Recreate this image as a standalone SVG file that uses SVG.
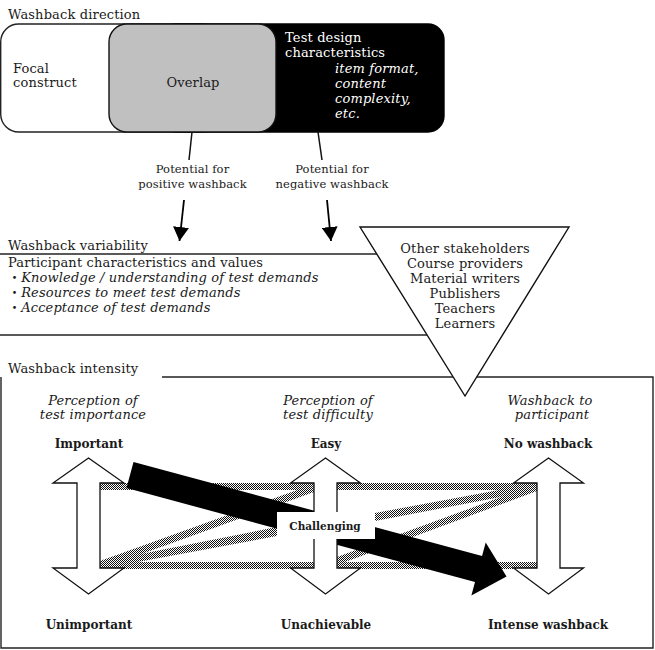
<svg xmlns="http://www.w3.org/2000/svg" width="655" height="650" viewBox="0 0 655 650">
<style>
text{font-family:"DejaVu Serif","Noto Sans CJK JP",serif;font-size:13px;letter-spacing:0.15px;fill:#1a1a1a}
.sm{font-size:11.5px;letter-spacing:0.1px}
.it{font-style:italic}
.b{font-weight:bold;font-size:12px;letter-spacing:0}
.w{fill:#fff}
.mid{text-anchor:middle}
.ln{stroke:#222;stroke-width:1.4;fill:none}
.dbl{fill:#fff;stroke:#111;stroke-width:1.3;stroke-linejoin:miter}
.band{fill:url(#hatch)}
</style>
<defs>
<pattern id="hatch" width="2" height="2" patternUnits="userSpaceOnUse"><rect width="2" height="2" fill="#fff"/><rect width="1" height="1" fill="#111"/><rect x="1" y="1" width="1" height="1" fill="#111"/></pattern>
<marker id="ah" viewBox="0 0 14 16" refX="14" refY="8" markerWidth="14" markerHeight="16" markerUnits="userSpaceOnUse" orient="auto"><path d="M0,0 L14,8 L0,16 z" fill="#000"/></marker>
</defs>
<rect width="655" height="650" fill="#fff"/>

<g id="direction">
<text x="8" y="19">Washback direction</text>
<rect id="focal" x="0.7" y="24" width="220" height="108" rx="18" fill="#fff" stroke="#222" stroke-width="1.4"/>
<rect id="testdesign" x="160" y="24" width="284" height="108" rx="16" fill="#000" stroke="#000" stroke-width="1.4"/>
<rect id="overlap" x="109" y="24" width="167" height="108" rx="18" fill="#c0c0c0" stroke="#111" stroke-width="1.4"/>
<text x="13" y="73">Focal</text>
<text x="13" y="87">construct</text>
<text x="193" y="87" class="mid">Overlap</text>
<text x="285" y="42" class="w">Test design</text>
<text x="285" y="57" class="w">characteristics</text>
<text x="335" y="73" class="w it">item format,</text>
<text x="335" y="88" class="w it">content</text>
<text x="335" y="103" class="w it">complexity,</text>
<text x="335" y="118" class="w it">etc.</text>
</g>

<g id="potential">
<text x="192.5" y="173" class="sm mid">Potential for</text>
<text x="192.5" y="188" class="sm mid">positive washback</text>
<text x="332" y="173" class="sm mid">Potential for</text>
<text x="332" y="188" class="sm mid">negative washback</text>
</g>

<g id="connectors">
<line x1="192" y1="132" x2="189" y2="160" stroke="#111" stroke-width="1.5"/>
<line x1="318" y1="132" x2="322" y2="160" stroke="#111" stroke-width="1.5"/>
<line x1="184" y1="200" x2="179.5" y2="241" stroke="#000" stroke-width="1.8" marker-end="url(#ah)"/>
<line x1="327" y1="200" x2="331" y2="241" stroke="#000" stroke-width="1.8" marker-end="url(#ah)"/>
</g>

<g id="variability">
<text x="8" y="250">Washback variability</text>
<line class="ln" x1="0" y1="254" x2="380" y2="254"/>
<text x="8" y="267">Participant characteristics and values</text>
<text x="8" y="282"><tspan>・</tspan><tspan class="it">Knowledge / understanding of test demands</tspan></text>
<text x="8" y="297"><tspan>・</tspan><tspan class="it">Resources to meet test demands</tspan></text>
<text x="8" y="312"><tspan>・</tspan><tspan class="it">Acceptance of test demands</tspan></text>
<line class="ln" x1="0" y1="335" x2="430" y2="335"/>
</g>

<g id="intensity-frame">
<text x="8" y="373">Washback intensity</text>
<path class="ln" d="M162,377 H653 V648 H1 V377"/>
</g>

<g id="stakeholders">
<polygon points="360,227 569,227 465,396" fill="#fff" stroke="#111" stroke-width="1.4"/>
<text x="465" y="253" class="mid">Other stakeholders</text>
<text x="465" y="268" class="mid">Course providers</text>
<text x="465" y="283" class="mid">Material writers</text>
<text x="465" y="298" class="mid">Publishers</text>
<text x="465" y="313" class="mid">Teachers</text>
<text x="465" y="328" class="mid">Learners</text>
</g>

<g id="headings">
<text x="93" y="405" class="it mid">Perception of</text>
<text x="93" y="419" class="it mid">test importance</text>
<text x="328" y="405" class="it mid">Perception of</text>
<text x="328" y="419" class="it mid">test difficulty</text>
<text x="550" y="405" class="it mid">Washback to</text>
<text x="552" y="419" class="it mid">participant</text>
</g>

<g id="bands">
<rect class="band" x="100" y="483" width="437" height="7"/>
<rect class="band" x="100" y="562" width="437" height="7"/>
<polygon class="band" points="100,561 314,484 314,492 100,569"/>
<polygon class="band" points="100,562 277,527 277,536 100,569"/>
<polygon class="band" points="375,513 537,483 537,490 375,521"/>
<polygon class="band" points="337,557 537,484 537,491 337,565"/>
</g>

<g id="intensity-arrow">
<polygon transform="translate(130,475) rotate(15.1)" points="0,-13.5 361,-13.5 361,-27.5 390,0 361,27.5 361,13.5 0,13.5" fill="#000"/>
</g>

<g id="importance">
<polygon class="dbl" points="88.5,458 124,483 100,483 100,568 124,568 88.5,594 53,568 77,568 77,483 53,483"/>
<text x="89" y="448" class="b mid">Important</text>
<text x="89" y="629" class="b mid">Unimportant</text>
</g>

<g id="difficulty">
<polygon class="dbl" points="325.5,458 360.5,483 337,483 337,568 360.5,568 325.5,594 290.5,568 314,568 314,483 290.5,483"/>
<text x="326" y="448" class="b mid">Easy</text>
<text x="326" y="629" class="b mid">Unachievable</text>
<rect x="277" y="512" width="98" height="27" fill="#fff"/>
<text x="325" y="530" class="b mid" style="font-size:10.5px">Challenging</text>
</g>

<g id="washback">
<polygon class="dbl" points="548.5,458 583.5,483 560,483 560,568 583.5,568 548.5,594 513.5,568 537,568 537,483 513.5,483"/>
<text x="548" y="448" class="b mid">No washback</text>
<text x="548" y="629" class="b mid">Intense washback</text>
</g>
</svg>
